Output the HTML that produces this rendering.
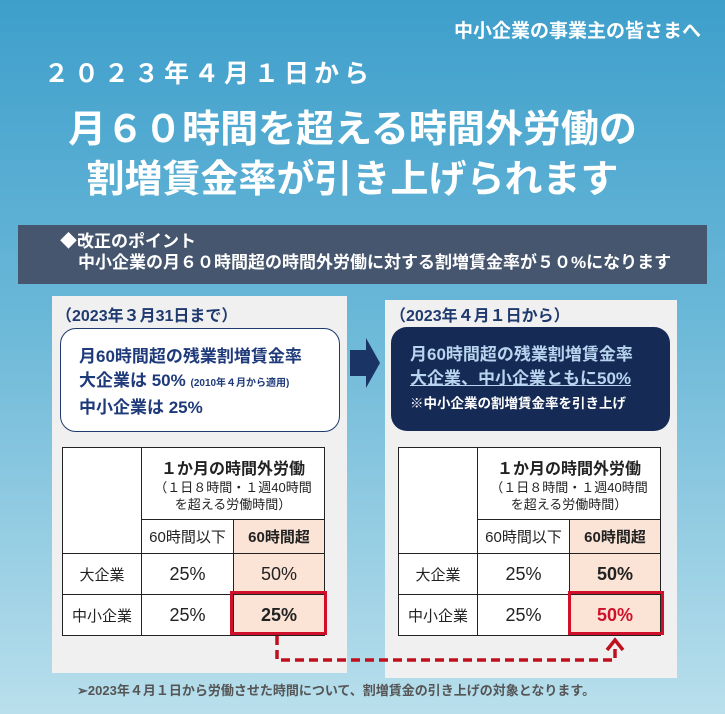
<!DOCTYPE html>
<html><head><meta charset="utf-8">
<style>
*{margin:0;padding:0;box-sizing:border-box}
body{width:725px;height:714px;overflow:hidden;position:relative;font-family:"Liberation Sans","Noto Sans CJK JP",sans-serif;background:linear-gradient(180deg,#3e9fcb 0%,#6bb8d8 45%,#b9dfec 100%)}
.a{position:absolute}
.t{white-space:nowrap}
table{border-collapse:collapse;position:absolute;background:#fff}
td{border:1.5px solid #222;text-align:center;color:#222;font-size:15px;padding:0}
.pk{background:#fbe3d6}
</style></head><body>
<div class="a t" style="left:454px;top:16px;color:#fff;font-weight:bold;font-size:19px">中小企業の事業主の皆さまへ</div>
<div class="a t" style="left:44px;top:54px;color:#fff;font-weight:bold;font-size:25px;letter-spacing:5px">２０２３年４月１日から</div>
<div class="a" style="left:0;width:725px;top:105px;text-align:center;color:#fff;font-weight:bold;font-size:38px;line-height:50px;padding-right:20px">月６０時間を超える時間外労働の<br>割増賃金率が引き上げられます</div>
<div class="a" style="left:18px;top:225px;width:689px;height:59px;background:#45566e;color:#fff;font-weight:bold;font-size:17px;line-height:21px;padding:6px 0 0 42px">◆改正のポイント<br><span style="padding-left:18px">中小企業の月６０時間超の時間外労働に対する割増賃金率が５０%になります</span></div>

<div class="a" style="left:52px;top:296px;width:295px;height:377px;background:#f0f0f0"></div>
<div class="a" style="left:385px;top:300px;width:292px;height:378px;background:#f0f0f0"></div>
<div class="a t" style="left:56px;top:302px;font-weight:bold;font-size:16px;color:#1f3a6e">（2023年３月31日まで）</div>
<div class="a t" style="left:390px;top:302px;font-weight:bold;font-size:16px;color:#1f3a6e">（2023年４月１日から）</div>

<div class="a" style="left:60px;top:328px;width:280px;height:104px;background:#fff;border:1.5px solid #1f3a6e;border-radius:16px;padding:16px 0 0 18px;color:#1f3a7a;font-weight:bold;font-size:17px;line-height:24px">月60時間超の残業割増賃金率<br>大企業は 50% <span style="font-size:10px">(2010年４月から適用)</span><br>中小企業は 25%</div>
<svg class="a" style="left:350px;top:338px" width="32" height="50"><polygon points="0,12 16,12 16,0 30,25 16,50 16,38 0,38" fill="#1a3466"/></svg>
<div class="a" style="left:391px;top:327px;width:279px;height:104px;background:#152a55;border-radius:16px;padding:16px 0 0 19px;color:#b8d4ee;font-weight:bold;font-size:17px;line-height:24px">月60時間超の残業割増賃金率<br><span style="text-decoration:underline">大企業、中小企業ともに50%</span><br><span style="color:#fff;font-size:13.5px">※中小企業の割増賃金率を引き上げ</span></div>

<table style="left:62px;top:447px;width:263px">
<tr style="height:72px"><td rowspan="2" style="width:79px"></td><td colspan="2"><b style="font-size:16px">１か月の時間外労働</b><br><span style="font-size:13px;line-height:16px">（１日８時間・１週40時間<br>を超える労働時間）</span></td></tr>
<tr style="height:34px"><td style="width:92px;font-size:15px">60時間以下</td><td class="pk" style="font-weight:bold;font-size:15px">60時間超</td></tr>
<tr style="height:41px"><td style="font-size:15px">大企業</td><td style="font-size:18px">25%</td><td class="pk" style="font-size:18px">50%</td></tr>
<tr style="height:41px"><td style="font-size:15px">中小企業</td><td style="font-size:18px">25%</td><td class="pk" style="font-size:18px;font-weight:bold">25%</td></tr>
</table>
<table style="left:398px;top:447px;width:263px">
<tr style="height:72px"><td rowspan="2" style="width:79px"></td><td colspan="2"><b style="font-size:16px">１か月の時間外労働</b><br><span style="font-size:13px;line-height:16px">（１日８時間・１週40時間<br>を超える労働時間）</span></td></tr>
<tr style="height:34px"><td style="width:92px;font-size:15px">60時間以下</td><td class="pk" style="font-weight:bold;font-size:15px">60時間超</td></tr>
<tr style="height:41px"><td style="font-size:15px">大企業</td><td style="font-size:18px">25%</td><td class="pk" style="font-size:18px;font-weight:bold">50%</td></tr>
<tr style="height:41px"><td style="font-size:15px">中小企業</td><td style="font-size:18px">25%</td><td class="pk" style="font-size:18px;font-weight:bold;color:#d0102a">50%</td></tr>
</table>
<div class="a" style="left:230px;top:591px;width:97px;height:44px;border:3px solid #d0102a"></div>
<div class="a" style="left:568px;top:591px;width:96px;height:44px;border:3px solid #d0102a"></div>
<svg class="a" style="left:0;top:0" width="725" height="714">
<polyline points="277,636 277,660 615,660 615,644" fill="none" stroke="#c0101e" stroke-width="3.5" stroke-dasharray="9,5"/>
<polyline points="607,650 615,640 623,650" fill="none" stroke="#c0101e" stroke-width="3.5"/>
</svg>
<div class="a t" style="left:77px;top:680px;color:#555;font-size:13px;font-weight:bold">➢2023年４月１日から労働させた時間について、割増賃金の引き上げの対象となります。</div>
</body></html>
